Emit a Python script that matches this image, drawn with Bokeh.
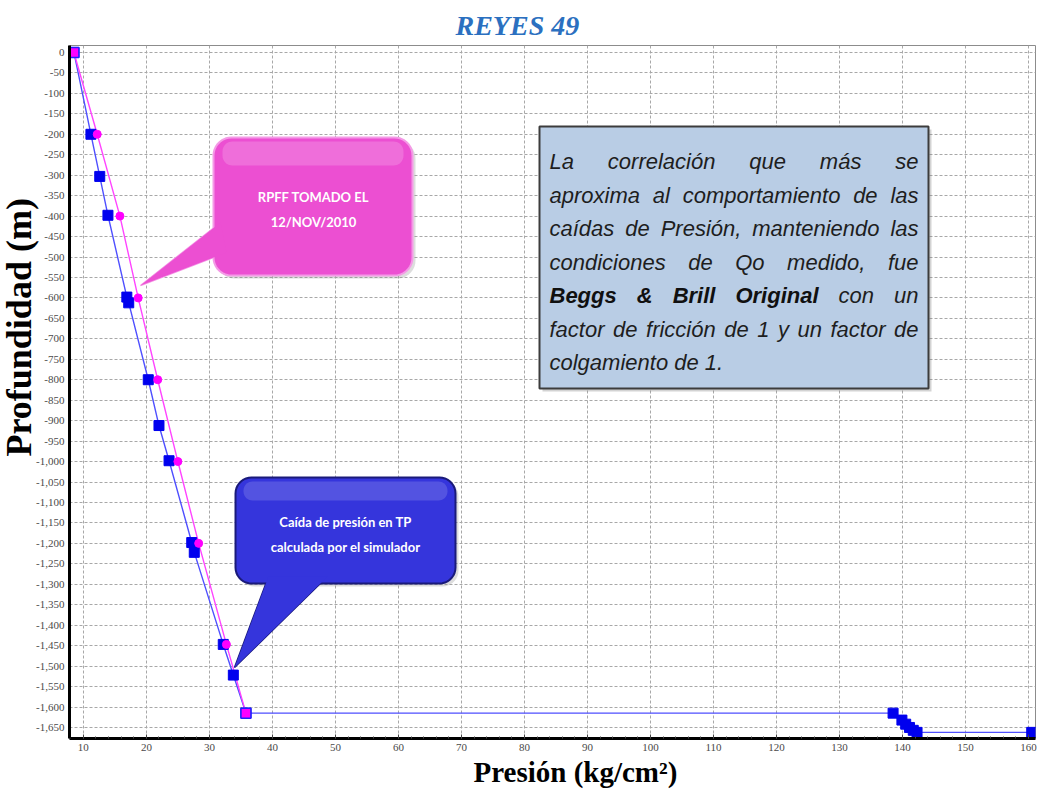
import math
import numpy as np
from bokeh.plotting import figure
from bokeh.models import Range1d, FixedTicker, NumeralTickFormatter, Title
from bokeh.core.properties import value
from bokeh.embed import file_html
from bokeh.resources import INLINE

# ---------------- data ----------------
TITLE = "REYES 49"
X_LABEL = "Presión (kg/cm²)"
Y_LABEL = "Profundidad (m)"

# simulated pressure traverse (blue squares)
sim_pressure = [8.5, 11.2, 12.6, 13.9, 16.9, 17.2, 20.3, 22.0, 23.6, 27.2, 27.6,
                32.2, 33.8, 35.8, 138.5, 139.9, 140.5, 141.1, 141.7, 142.3, 160.5]
sim_depth = [0, -200, -303, -398, -598, -612, -800, -912, -998, -1198, -1222,
             -1447, -1522, -1615, -1615, -1632, -1642, -1650, -1657, -1662, -1662]

# measured RPFF (magenta)
rpff_pressure = [8.5, 12.2, 15.8, 18.7, 21.8, 25.0, 28.3, 32.7, 35.8]
rpff_depth = [0, -200, -400, -600, -800, -1000, -1200, -1447, -1615]

x_ticks = list(range(10, 161, 10))
x_minor = list(range(8, 162, 2))
y_ticks = list(range(0, -1651, -50))

rpff_callout = ["RPFF TOMADO EL", "12/NOV/2010"]
sim_callout = ["Caída de presión en TP", "calculada por el simulador"]
# words starting with * are bold
note_lines = [
    "La correlación que más se",
    "aproxima al comportamiento de las",
    "caídas de Presión, manteniendo las",
    "condiciones de Qo medido, fue",
    "*Beggs *& *Brill *Original con un",
    "factor de fricción de 1 y un factor de",
    "colgamiento de 1.",
]

# ---------------- layout helpers (screen px -> data) ----------------
W, H = 1038, 797
FRAME_L, FRAME_R, FRAME_T, FRAME_B = 69, 1035, 45, 738
X0, X1 = 7.8, 161.1
Y0, Y1 = -1677.0, 17.0


def dx(sx):
    return X0 + (sx - FRAME_L) * (X1 - X0) / (FRAME_R - FRAME_L)


def dy(sy):
    return Y1 - (sy - FRAME_T) * (Y1 - Y0) / (FRAME_B - FRAME_T)


def rounded_rect(x0, y0, x1, y1, r, n=10):
    pts = []
    corners = [(x1 - r, y0 + r, -90, 0), (x1 - r, y1 - r, 0, 90),
               (x0 + r, y1 - r, 90, 180), (x0 + r, y0 + r, 180, 270)]
    for cx, cy, a0, a1 in corners:
        for t in np.radians(np.linspace(a0, a1, n)):
            pts.append((cx + r * math.cos(t), cy + r * math.sin(t)))
    return [dx(p[0]) for p in pts], [dy(p[1]) for p in pts]


def poly(points):
    return [dx(p[0]) for p in points], [dy(p[1]) for p in points]


# Helvetica/Arial advance widths (per 1000 em)
REG_W = {' ': 278, ',': 278, '.': 278, '&': 667, '1': 556,
         'a': 556, 'b': 556, 'c': 500, 'd': 556, 'e': 556, 'f': 278, 'g': 556, 'h': 556,
         'i': 222, 'j': 222, 'k': 500, 'l': 222, 'm': 833, 'n': 556, 'o': 556, 'p': 556,
         'q': 556, 'r': 333, 's': 500, 't': 278, 'u': 556, 'v': 500, 'w': 722, 'x': 500,
         'y': 500, 'z': 500, 'á': 556, 'é': 556, 'í': 278, 'ó': 556, 'ú': 556,
         'L': 556, 'P': 667, 'Q': 778, 'B': 667, 'O': 778}
BOLD_W = {' ': 278, '&': 722, 'B': 722, 'O': 778, 'e': 556, 'g': 611, 's': 556,
          'r': 389, 'i': 278, 'l': 278, 'n': 611, 'a': 556}


def word_width(word, bold, fs):
    table = BOLD_W if bold else REG_W
    return sum(table.get(ch, 556) for ch in word) * fs / 1000.0


# ---------------- figure ----------------
p = figure(width=W, height=H,
           x_range=Range1d(X0, X1), y_range=Range1d(Y0, Y1),
           output_backend="svg", toolbar_location=None,
           min_border_left=FRAME_L, min_border_right=W - FRAME_R,
           min_border_top=FRAME_T, min_border_bottom=H - FRAME_B,
           background_fill_color="white", border_fill_color="white",
           outline_line_color="#8c8c8c", outline_line_width=1)

p.title.text = TITLE
p.title.align = "left"
p.title.offset = 386
p.title.text_font = "Liberation Serif"
p.title.text_font_style = "bold italic"
p.title.text_font_size = "28px"
p.title.text_color = "#2b70c0"

# axes
p.xaxis.ticker = FixedTicker(ticks=x_ticks, minor_ticks=x_minor)
p.yaxis.ticker = FixedTicker(ticks=y_ticks)
p.yaxis.formatter = NumeralTickFormatter(format="0,0")
for ax in (p.xaxis, p.yaxis):
    ax.axis_line_color = "black"
    ax.axis_line_width = 3
    ax.major_label_text_font = "Liberation Sans Narrow"
    ax.major_label_text_font_size = "11px"
    ax.major_label_text_color = "#4a4a4a"
    ax.major_label_standoff = 5
    ax.major_tick_out = 0
    ax.minor_tick_out = 0
    ax.axis_label = None
p.xaxis.major_tick_in = 4
p.xaxis.minor_tick_in = 2
p.xaxis.major_tick_line_color = "#444444"
p.xaxis.minor_tick_line_color = "#444444"
p.yaxis.major_tick_in = 0
p.yaxis.minor_tick_line_color = None
p.yaxis.major_tick_line_color = None

xt = Title(text=X_LABEL, align="left", offset=404, text_font="Liberation Serif",
           text_font_style="bold", text_font_size="29px", text_color="black", standoff=0)
p.add_layout(xt, "below")

yt = Title(text=Y_LABEL, align="left", offset=282, text_font="Liberation Serif",
           text_font_style="bold", text_font_size="36px", text_color="black")
try:
    yt.standoff = -11
except Exception:
    yt.standoff = 0
p.add_layout(yt, "left")

# grid
for g in (p.xgrid, p.ygrid):
    g.grid_line_color = "#a8a8a8"
    g.grid_line_dash = "3 2"
    g.grid_line_width = 1

# ---------------- series ----------------
p.line(sim_pressure, sim_depth, line_color="#4f4fff", line_width=1.4)
p.line(rpff_pressure, rpff_depth, line_color="#ff44ff", line_width=1.4)
p.scatter(sim_pressure, sim_depth, marker="square", size=10,
          fill_color="#0000ee", line_color="#0000ee")
p.scatter(rpff_pressure[1:-1], rpff_depth[1:-1], marker="circle", size=8,
          fill_color="#ff00ff", line_color="#ff00ff")
p.scatter([rpff_pressure[0], rpff_pressure[-1]], [rpff_depth[0], rpff_depth[-1]],
          marker="square", size=10, fill_color="#ff00ff", line_color="#2020ff", line_width=1.5)

# ---------------- note box ----------------
bx, by = poly([(542, 129), (931, 129), (931, 391), (542, 391)])
p.patch(bx, by, fill_color="#808080", fill_alpha=0.35, line_color=None)
bx, by = poly([(539, 126), (928, 126), (928, 388), (539, 388)])
p.patch(bx, by, fill_color="#b9cde5", line_color="#3c3c3c", line_width=2)

NOTE_LEFT, NOTE_RIGHT = 549, 918
NOTE_BASE0, NOTE_STEP = 161, 33.5
NOTE_FS = 22
rx, ry, rt, bxs, bys, bts = [], [], [], [], [], []
for i, line in enumerate(note_lines):
    words = [(w[1:], True) if w.startswith("*") else (w, False) for w in line.split(" ")]
    widths = [word_width(w, b, NOTE_FS) for w, b in words]
    if i < len(note_lines) - 1 and len(words) > 1:
        gap = (NOTE_RIGHT - NOTE_LEFT - sum(widths)) / (len(words) - 1)
    else:
        gap = 278 * NOTE_FS / 1000.0
    sx = NOTE_LEFT
    sy = NOTE_BASE0 + i * NOTE_STEP
    for (w, b), wd in zip(words, widths):
        if b:
            bxs.append(dx(sx)); bys.append(dy(sy)); bts.append(w)
        else:
            rx.append(dx(sx)); ry.append(dy(sy)); rt.append(w)
        sx += wd + gap

p.text(x=rx, y=ry, text=rt, text_font=value("Liberation Sans"), text_font_size=value("22px"),
       text_font_style=value("italic"), text_color="#1e1e1e",
       text_align="left", text_baseline="alphabetic")
p.text(x=bxs, y=bys, text=bts, text_font=value("Liberation Sans"), text_font_size=value("22px"),
       text_font_style=value("bold italic"), text_color="#101010",
       text_align="left", text_baseline="alphabetic")

# ---------------- pink callout ----------------
PINK, PINK_EDGE = "#ec4fd2", "#f49ae6"
ptr = poly([(220, 222), (140, 285), (226, 252)])
p.patch(*rounded_rect(216, 140, 415, 278, 18), fill_color="#909090", fill_alpha=0.3, line_color=None)
p.patch(*ptr, fill_color=PINK, line_color=PINK_EDGE, line_width=1.5)
p.patch(*rounded_rect(213, 137, 412, 275, 18), fill_color=PINK, line_color=PINK_EDGE, line_width=2)
p.patch(*ptr, fill_color=PINK, line_color=None)
p.patch(*rounded_rect(222, 141, 403, 165, 10), fill_color="white", fill_alpha=0.18, line_color=None)
p.text(x=[dx(313), dx(313)], y=[dy(196), dy(221)], text=rpff_callout,
       text_font=value("Lato"), text_font_size=value("13px"), text_font_style=value("bold"),
       text_color="white", text_align="center", text_baseline="middle")

# ---------------- blue callout ----------------
BLUE, BLUE_EDGE = "#3535dc", "#1a1a7a"
ptr2 = poly([(268, 576), (234, 667), (327, 576)])
p.patch(*rounded_rect(238, 480, 458, 586, 16), fill_color="#909090", fill_alpha=0.3, line_color=None)
p.patch(*ptr2, fill_color=BLUE, line_color=BLUE_EDGE, line_width=1.5)
p.patch(*rounded_rect(235, 477, 455, 583, 16), fill_color=BLUE, line_color=BLUE_EDGE, line_width=2)
p.patch(*ptr2, fill_color=BLUE, line_color=None)
p.patch(*rounded_rect(243, 481, 447, 500, 9), fill_color="white", fill_alpha=0.15, line_color=None)
p.text(x=[dx(345), dx(345)], y=[dy(521), dy(546)], text=sim_callout,
       text_font=value("Lato"), text_font_size=value("13px"), text_font_style=value("bold"),
       text_color="white", text_align="center", text_baseline="middle")

open("out.html", "w").write(file_html(p, INLINE))
